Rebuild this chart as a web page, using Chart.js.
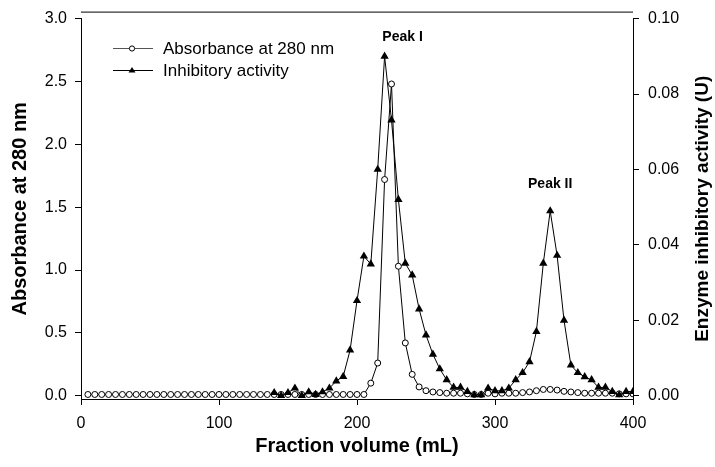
<!DOCTYPE html>
<html>
<head>
<meta charset="utf-8">
<script src="https://cdn.jsdelivr.net/npm/chart.js@4.4.1/dist/chart.umd.min.js"></script>
<style>
  body { margin: 0; background: #fff; }
  #elution { display: block; }
</style>
</head>
<body>
<canvas id="elution" width="715" height="467"></canvas>
<script>
// fraction volumes (mL) and readings
const absVolume = [
  5, 10, 15, 20, 25, 30, 35, 40, 45, 50, 55, 60, 65, 70, 75, 80, 85, 90, 95, 100,
  105, 110, 115, 120, 125, 130, 135, 140, 145, 150, 155, 160, 165, 170, 175, 180, 185, 190, 195, 200,
  205, 210, 215, 220, 225, 230, 235, 240, 245, 250, 255, 260, 265, 270, 275, 280, 285, 290, 295, 300,
  305, 310, 315, 320, 325, 330, 335, 340, 345, 350, 355, 360, 365, 370, 375, 380, 385, 390, 395, 400
]
const absorbance = [
  0.01, 0.01, 0.01, 0.01, 0.01, 0.01, 0.01, 0.01, 0.01, 0.01, 0.01, 0.01, 0.01, 0.01, 0.01, 0.01, 0.01, 0.01, 0.01, 0.01,
  0.01, 0.01, 0.01, 0.01, 0.01, 0.01, 0.01, 0.01, 0.01, 0.01, 0.01, 0.01, 0.01, 0.01, 0.01, 0.01, 0.01, 0.01, 0.01, 0.01,
  0.01, 0.10, 0.26, 1.72, 2.48, 1.03, 0.42, 0.17, 0.07, 0.04, 0.03, 0.025, 0.02, 0.02, 0.02, 0.015, 0.01, 0.01, 0.02, 0.015,
  0.02, 0.02, 0.02, 0.025, 0.03, 0.04, 0.05, 0.05, 0.045, 0.035, 0.03, 0.025, 0.02, 0.02, 0.02, 0.02, 0.02, 0.015, 0.015, 0.015
]

const actVolume = [
  140, 145, 150, 155, 160, 165, 170, 175, 180, 185, 190, 195, 200, 205, 210, 215, 220, 225, 230, 235,
  240, 245, 250, 255, 260, 265, 270, 275, 280, 285, 290, 295, 300, 305, 310, 315, 320, 325, 330, 335,
  340, 345, 350, 355, 360, 365, 370, 375, 380, 385, 390, 395, 400
]
const activity = [
  0.0008, 0.0000, 0.0008, 0.0020, 0.0000, 0.0010, 0.0003, 0.0010, 0.0020, 0.0039, 0.0051, 0.0121, 0.0252, 0.0370, 0.0349, 0.0600, 0.0900, 0.0731, 0.0520, 0.0351,
  0.0320, 0.0230, 0.0161, 0.0110, 0.0071, 0.0042, 0.0022, 0.0022, 0.0011, 0.0002, 0.0002, 0.0020, 0.0013, 0.0013, 0.0020, 0.0042, 0.0061, 0.0090, 0.0170, 0.0351,
  0.0490, 0.0372, 0.0200, 0.0081, 0.0061, 0.0050, 0.0042, 0.0022, 0.0022, 0.0011, 0.0002, 0.0011, 0.0011
]

const xTicks = [0, 100, 200, 300, 400]
const absTicks = [0, 0.5, 1.0, 1.5, 2.0, 2.5, 3.0]
const actTicks = [0, 0.02, 0.04, 0.06, 0.08, 0.10]

// peak annotations, placed in (volume, activity) units
const peakLabels = [
  { text: 'Peak I', x: 233, y: 0.095 },
  { text: 'Peak II', x: 340, y: 0.056 }
]

const FONT = 'Arial, "Liberation Sans", sans-serif'

const toPoints = (xs, ys) => xs.map((v, i) => ({ x: v, y: ys[i] }))

const extras = {
  id: 'extras',
  afterDraw(chart) {
    const ctx = chart.ctx
    const area = chart.chartArea
    const sx = chart.scales.x
    const sy = chart.scales.yAct
    ctx.save()

    // frame line above the plot
    ctx.strokeStyle = '#000'
    ctx.lineWidth = 1
    ctx.beginPath()
    ctx.moveTo(area.left, area.top - 6.5)
    ctx.lineTo(area.right, area.top - 6.5)
    ctx.stroke()

    // right axis title reads bottom-to-top
    ctx.fillStyle = '#000'
    ctx.font = 'bold 19px ' + FONT
    ctx.textAlign = 'center'
    ctx.textBaseline = 'middle'
    ctx.translate(703, (area.top + area.bottom) / 2)
    ctx.rotate(-Math.PI / 2)
    ctx.fillText('Enzyme inhibitory activity (U)', 0, 0)
    ctx.setTransform(1, 0, 0, 1, 0, 0)

    // peak labels
    ctx.font = 'bold 14px ' + FONT
    peakLabels.forEach(p => {
      ctx.fillText(p.text, sx.getPixelForValue(p.x), sy.getPixelForValue(p.y))
    })

    // legend
    const lx = 113, ly = 48, gap = 22
    ctx.font = '17px ' + FONT
    ctx.textAlign = 'left'
    ctx.lineWidth = 1

    ctx.strokeStyle = '#555'
    ctx.beginPath()
    ctx.moveTo(lx, ly + 0.5)
    ctx.lineTo(lx + 40, ly + 0.5)
    ctx.stroke()
    ctx.fillStyle = '#fff'
    ctx.strokeStyle = '#000'
    ctx.beginPath()
    ctx.arc(lx + 19, ly + 0.5, 2.6, 0, Math.PI * 2)
    ctx.fill()
    ctx.stroke()
    ctx.fillStyle = '#000'
    ctx.fillText('Absorbance at 280 nm', lx + 50, ly + 1)

    const ty = ly + gap
    ctx.beginPath()
    ctx.moveTo(lx, ty + 0.5)
    ctx.lineTo(lx + 40, ty + 0.5)
    ctx.stroke()
    ctx.beginPath()
    ctx.moveTo(lx + 19, ty - 3)
    ctx.lineTo(lx + 22.5, ty + 2.5)
    ctx.lineTo(lx + 15.5, ty + 2.5)
    ctx.closePath()
    ctx.fill()
    ctx.fillText('Inhibitory activity', lx + 50, ty + 1)

    ctx.restore()
  }
}

const axisTitle = (text, padding) => ({
  display: true,
  text: text,
  color: '#000',
  font: { family: FONT, size: 20, weight: 'bold', lineHeight: 1 },
  padding: padding
})

new Chart(document.getElementById('elution'), {
  type: 'line',
  data: {
    datasets: [
      {
        label: 'Inhibitory activity',
        data: toPoints(actVolume, activity),
        yAxisID: 'yAct',
        borderColor: '#000',
        borderWidth: 1,
        backgroundColor: '#000',
        pointStyle: 'triangle',
        pointRadius: 4.8,
        pointBorderWidth: 0,
        tension: 0,
        order: 0
      },
      {
        label: 'Absorbance at 280 nm',
        data: toPoints(absVolume, absorbance),
        yAxisID: 'yAbs',
        borderColor: '#000',
        borderWidth: 1,
        backgroundColor: '#fff',
        pointStyle: 'circle',
        pointRadius: 3,
        pointBorderWidth: 1,
        tension: 0,
        order: 1
      }
    ]
  },
  options: {
    responsive: false,
    animation: false,
    devicePixelRatio: 1,
    layout: { padding: { top: 18, left: 0, right: 0, bottom: 0 } },
    plugins: {
      legend: { display: false },
      tooltip: { enabled: false }
    },
    scales: {
      x: {
        type: 'linear',
        min: 0,
        max: 400,
        afterBuildTicks: s => { s.ticks = xTicks.map(v => ({ value: v })) },
        afterFit: s => { s.height = 68 },
        ticks: { color: '#000', font: { family: FONT, size: 16 }, padding: 9, maxRotation: 0 },
        grid: { drawOnChartArea: false, tickLength: 6, color: '#000' },
        border: { color: '#000', width: 1 },
        title: axisTitle('Fraction volume (mL)', { top: 0, bottom: 11 })
      },
      yAbs: {
        type: 'linear',
        position: 'left',
        min: -0.026,
        max: 3.0,
        afterBuildTicks: s => { s.ticks = absTicks.map(v => ({ value: v })) },
        afterFit: s => { s.width = 81 },
        ticks: { color: '#000', font: { family: FONT, size: 16 }, padding: 8, callback: v => v.toFixed(1) },
        grid: { drawOnChartArea: false, tickLength: 6, color: '#000' },
        border: { color: '#000', width: 1 },
        title: axisTitle('Absorbance at 280 nm', { top: 10, bottom: 0 })
      },
      yAct: {
        type: 'linear',
        position: 'right',
        min: -0.00087,
        max: 0.10,
        afterBuildTicks: s => { s.ticks = actTicks.map(v => ({ value: v })) },
        afterFit: s => { s.width = 82 },
        ticks: { color: '#000', font: { family: FONT, size: 16 }, padding: 9, callback: v => v.toFixed(2) },
        grid: { drawOnChartArea: false, tickLength: 6, color: '#000' },
        border: { color: '#000', width: 1 }
      }
    }
  },
  plugins: [extras]
})
</script>
</body>
</html>
